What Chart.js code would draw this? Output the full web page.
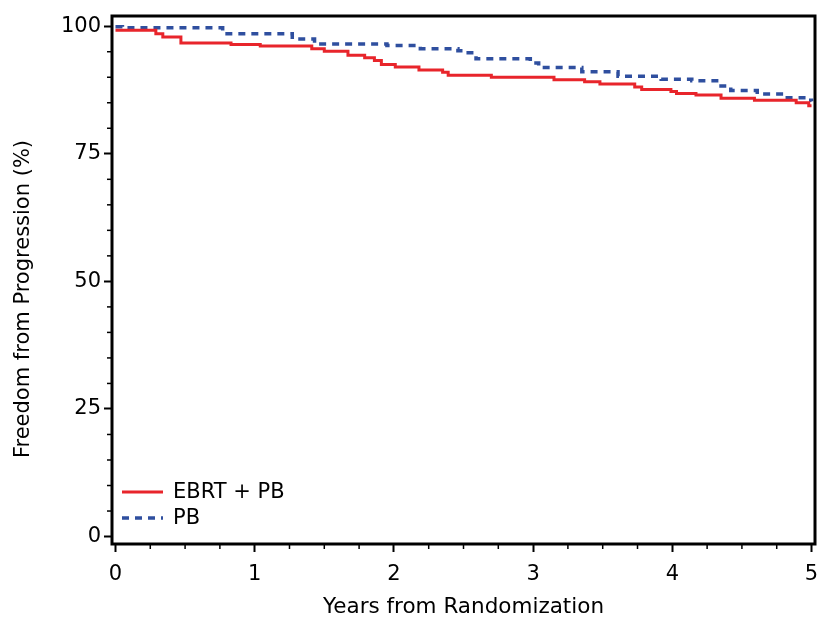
<!DOCTYPE html>
<html>
<head>
<meta charset="utf-8">
<script src="https://cdn.jsdelivr.net/npm/chart.js@4.4.1/dist/chart.umd.min.js"></script>
<style>
  html, body { margin: 0; padding: 0; background: #fff; }
  #wrap { width: 819px; height: 624px; }
</style>
</head>
<body>
<div id="wrap"><canvas id="myChart" width="819" height="624"></canvas></div>
<script>
// Kaplan-Meier style step curves (years, % free from progression)
const ebrtTimes = [0, 0.29, 0.34, 0.47, 0.83, 1.04, 1.41, 1.50, 1.67, 1.79, 1.86, 1.91, 2.01, 2.18, 2.35, 2.39, 2.70, 3.15, 3.37, 3.48, 3.73, 3.78, 3.99, 4.03, 4.17, 4.35, 4.59, 4.89, 4.98, 5.00];
const ebrtValues = [99.2, 98.5, 97.9, 96.7, 96.4, 96.1, 95.6, 95.1, 94.3, 93.8, 93.3, 92.5, 92.0, 91.4, 91.0, 90.4, 90.0, 89.5, 89.1, 88.7, 88.1, 87.6, 87.2, 86.8, 86.5, 85.9, 85.5, 85.0, 84.4, 84.4];

const pbTimes = [0, 0.05, 0.77, 1.27, 1.43, 1.95, 2.19, 2.46, 2.52, 2.59, 2.98, 3.04, 3.35, 3.61, 3.92, 4.14, 4.35, 4.42, 4.61, 4.80, 4.98, 5.00];
const pbValues = [99.9, 99.7, 98.5, 97.5, 96.5, 96.2, 95.6, 95.2, 94.8, 93.6, 92.8, 91.9, 91.1, 90.2, 89.6, 89.3, 88.3, 87.4, 86.7, 86.0, 85.5, 85.3];

const seriesNames = ["EBRT + PB", "PB"];
const xTickValues = [0, 1, 2, 3, 4, 5];
const yTickValues = [0, 25, 50, 75, 100];
const xTitle = "Years from Randomization";
const yTitle = "Freedom from Progression (%)";

const xMinorStep = 0.25;
const yMinorStep = 5;

const fontFamily = "'DejaVu Sans', Arial, sans-serif";

function toPoints(times, values) {
    let pts = [];
    for (let i = 0; i < times.length; i++) {
        pts.push({ x: times[i], y: values[i] });
    }
    return pts;
}

function majorAndMinor(majors, step) {
    let list = [];
    let first = majors[0], last = majors[majors.length - 1];
    for (let v = first; v <= last + 1e-9; v += step) {
        list.push(Math.round(v * 1000) / 1000);
    }
    return list;
}

// frame round the plot area, minor ticks, y title and the legend inside the plot
const framePlugin = {
    id: 'framePlugin',
    afterDatasetsDraw(chart) {
        const { ctx, chartArea, scales } = chart;
        ctx.save();
        ctx.strokeStyle = '#000';
        ctx.lineWidth = 3;
        ctx.strokeRect(chartArea.left, chartArea.top, chartArea.right - chartArea.left, chartArea.bottom - chartArea.top);

        ctx.lineWidth = 1.5;
        majorAndMinor(xTickValues, xMinorStep).forEach(v => {
            if (xTickValues.includes(v)) return;
            const px = scales.x.getPixelForValue(v);
            ctx.beginPath();
            ctx.moveTo(px, chartArea.bottom);
            ctx.lineTo(px, chartArea.bottom + 5);
            ctx.stroke();
        });
        majorAndMinor(yTickValues, yMinorStep).forEach(v => {
            if (yTickValues.includes(v)) return;
            const py = scales.y.getPixelForValue(v);
            ctx.beginPath();
            ctx.moveTo(chartArea.left, py);
            ctx.lineTo(chartArea.left - 5, py);
            ctx.stroke();
        });

        ctx.font = '21px ' + fontFamily;
        ctx.fillStyle = '#000';

        // y title, sits a bit below the middle of the axis like the original
        ctx.save();
        ctx.translate(24, 299);
        ctx.rotate(-Math.PI / 2);
        ctx.textAlign = 'center';
        ctx.textBaseline = 'middle';
        ctx.fillText(yTitle, 0, 0);
        ctx.restore();

        // legend
        ctx.textBaseline = 'middle';
        const rows = [chartArea.bottom - 52, chartArea.bottom - 26];
        chart.data.datasets.forEach((ds, i) => {
            const y = rows[i];
            ctx.strokeStyle = ds.borderColor;
            ctx.lineWidth = ds.borderWidth;
            ctx.setLineDash(ds.borderDash || []);
            ctx.beginPath();
            ctx.moveTo(chartArea.left + 10, y);
            ctx.lineTo(chartArea.left + 51, y);
            ctx.stroke();
            ctx.setLineDash([]);
            ctx.fillText(ds.label, chartArea.left + 61, y + 1);
        });
        ctx.restore();
    }
};

const config = {
    type: 'line',
    data: {
        datasets: [{
            label: seriesNames[0],
            data: toPoints(ebrtTimes, ebrtValues),
            borderColor: '#e8252b',
            borderWidth: 3,
            stepped: 'before',
            pointRadius: 0,
            fill: false
        }, {
            label: seriesNames[1],
            data: toPoints(pbTimes, pbValues),
            borderColor: '#2f4f9f',
            borderWidth: 3.5,
            borderDash: [7, 6],
            stepped: 'before',
            pointRadius: 0,
            fill: false
        }]
    },
    options: {
        responsive: false,
        animation: false,
        layout: { padding: { top: 16, right: 4, left: 0, bottom: 0 } },
        plugins: {
            legend: { display: false },
            tooltip: { enabled: false }
        },
        scales: {
            x: {
                type: 'linear',
                min: -0.025,
                max: 5.025,
                afterBuildTicks: (scale) => { scale.ticks = xTickValues.map(v => ({ value: v })); },
                afterFit: (scale) => {
                    scale.height = 80;
                    scale.paddingLeft = 0;
                    scale.paddingRight = 0;
                },
                ticks: {
                    color: '#000',
                    padding: 10,
                    maxRotation: 0,
                    font: { family: fontFamily, size: 21 },
                    callback: (v) => v
                },
                grid: {
                    drawOnChartArea: false,
                    tickLength: 8,
                    tickColor: '#000',
                    tickWidth: 2
                },
                border: { display: false },
                title: {
                    display: true,
                    text: xTitle,
                    color: '#000',
                    font: { family: fontFamily, size: 21.5 },
                    padding: { top: 0, bottom: 4 }
                }
            },
            y: {
                type: 'linear',
                min: -1.46,
                max: 102.0,
                afterBuildTicks: (scale) => { scale.ticks = yTickValues.map(v => ({ value: v })); },
                afterFit: (scale) => {
                    scale.width = 112;
                    scale.paddingTop = 0;
                    scale.paddingBottom = 0;
                },
                ticks: {
                    color: '#000',
                    padding: 3,
                    font: { family: fontFamily, size: 21 },
                    callback: (v) => v
                },
                grid: {
                    drawOnChartArea: false,
                    tickLength: 8,
                    tickColor: '#000',
                    tickWidth: 2
                },
                border: { display: false }
            }
        }
    },
    plugins: [framePlugin]
};

const ctx = document.getElementById('myChart');
let myChart = new Chart(ctx, config);
</script>
</body>
</html>
